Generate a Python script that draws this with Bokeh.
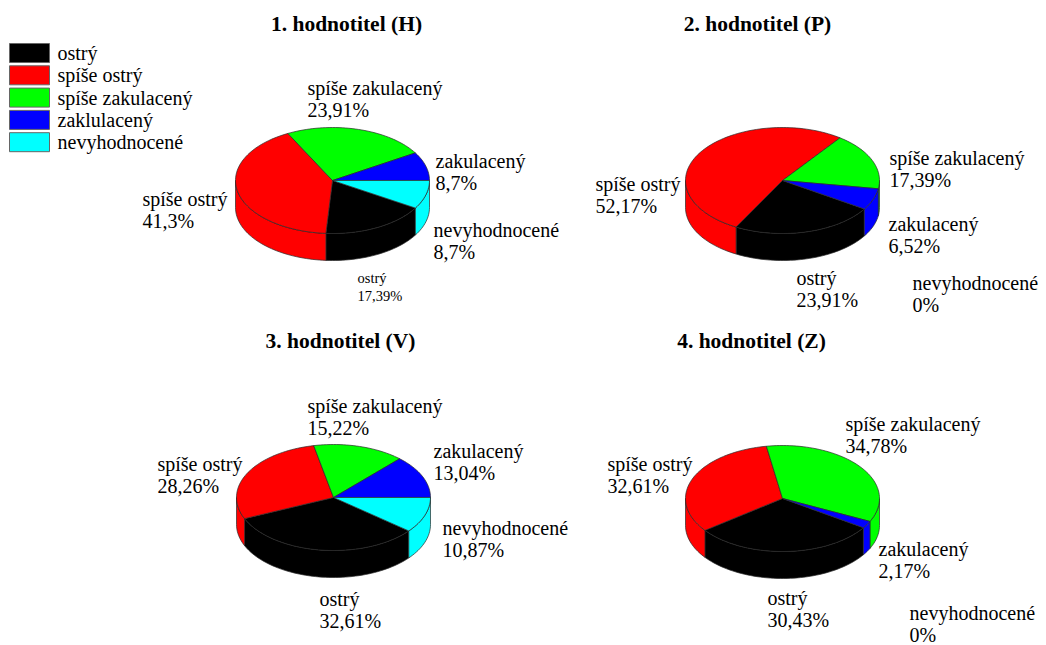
import numpy as np
from bokeh.plotting import figure
from bokeh.models import Range1d
from bokeh.core.properties import value
from bokeh.embed import file_html
from bokeh.resources import INLINE

# --- data -------------------------------------------------------------
categories = ["ostrý", "spíše ostrý", "spíše zakulacený", "zakulacený", "nevyhodnocené"]
legend_labels = ["ostrý", "spíše ostrý", "spíše zakulacený", "zaklulacený", "nevyhodnocené"]
titles = ["1. hodnotitel (H)", "2. hodnotitel (P)", "3. hodnotitel (V)", "4. hodnotitel (Z)"]

share_h = [17.39, 41.3, 23.91, 8.7, 8.7]
share_p = [23.91, 52.17, 17.39, 6.52, 0]
share_v = [32.61, 28.26, 15.22, 13.04, 10.87]
share_z = [30.43, 32.61, 34.78, 2.17, 0]

# --- styling / layout ------------------------------------------------
colors = ["#000000", "#ff0000", "#00ff00", "#0000ff", "#00ffff"]
FONT = value("Liberation Serif")
RX, RY, DEPTH = 97, 53, 27
EDGE = "#2a2a2a"

pies = [
    dict(values=share_h, title=titles[0], center=(332, 180), title_xy=(346, 23), start=-31.3,
         label_xy=[(357, 277), (142, 198), (307, 87), (435, 160), (433, 229)],
         small=[True, False, False, False, False]),
    dict(values=share_p, title=titles[1], center=(782, 180), title_xy=(757, 23), start=-32.5,
         label_xy=[(796, 277), (595, 183), (889, 157), (888, 223), (912, 282)],
         small=[False] * 5),
    dict(values=share_v, title=titles[2], center=(333, 497), title_xy=(340, 340), start=-39.1,
         label_xy=[(319, 598), (157, 463), (307, 405), (433, 450), (442, 527)],
         small=[False] * 5),
    dict(values=share_z, title=titles[3], center=(782, 498), title_xy=(751, 340), start=-33.5,
         label_xy=[(767, 597), (607, 463), (845, 423), (878, 548), (909, 612)],
         small=[False] * 5),
]


def fmt(v):
    return f"{v:g}".replace(".", ",") + "%"


def arc(cx, cy, a, b):
    n = max(2, int(abs(b - a) / 2) + 2)
    t = np.radians(np.linspace(a, b, n))
    return cx + RX * np.cos(t), cy - RY * np.sin(t)


p = figure(width=1046, height=645, x_range=Range1d(0, 1046), y_range=Range1d(645, 0),
           output_backend="svg", toolbar_location=None, min_border=0,
           x_axis_type=None, y_axis_type=None)
p.grid.visible = False
p.outline_line_color = None
p.background_fill_color = "white"

side_xs, side_ys, side_c = [], [], []
top_xs, top_ys, top_c = [], [], []

for pie in pies:
    cx, cy = pie["center"]
    ang = pie["start"]
    for val, col in zip(pie["values"], colors):
        span = val * 3.6
        a1, a2 = ang - span, ang  # slices run clockwise
        ang = a1
        if span <= 0:
            continue
        # top face
        ax, ay = arc(cx, cy, a1, a2)
        top_xs.append([cx] + list(ax))
        top_ys.append([cy] + list(ay))
        top_c.append(col)
        # front wall (lower half of the ellipse)
        for k in (-2, -1, 0, 1):
            lo, hi = max(a1, 180 + 360 * k), min(a2, 360 + 360 * k)
            if hi > lo:
                sx, sy = arc(cx, cy, lo, hi)
                side_xs.append(list(sx) + list(sx[::-1]))
                side_ys.append(list(sy) + list((sy + DEPTH)[::-1]))
                side_c.append(col)

p.patches(side_xs, side_ys, fill_color=side_c, line_color=EDGE, line_width=0.7)
p.patches(top_xs, top_ys, fill_color=top_c, line_color=EDGE, line_width=0.7)

# titles
p.text(x=[pie["title_xy"][0] for pie in pies], y=[pie["title_xy"][1] for pie in pies],
       text=[pie["title"] for pie in pies], text_font=FONT, text_font_size="21.5px",
       text_font_style="bold", text_align="center", text_baseline="middle", text_color="black")

# slice labels: name on the first line, share on the second
for big in (True, False):
    lx, ly, lt = [], [], []
    for pie in pies:
        for cat, v, (x, y), sm in zip(categories, pie["values"], pie["label_xy"], pie["small"]):
            if sm == big:
                continue
            step = 22 if big else 18
            lx += [x, x]
            ly += [y, y + step]
            lt += [cat, fmt(v)]
    p.text(x=lx, y=ly, text=lt, text_font=FONT,
           text_font_size="20px" if big else "14.5px",
           text_align="left", text_baseline="middle", text_color="black")

# legend
leg_y = [52.5 + 22.3 * i for i in range(len(legend_labels))]
p.rect(x=[29] * len(legend_labels), y=leg_y, width=40, height=19, fill_color=colors,
       line_color="#666666", line_width=1)
p.text(x=[57] * len(legend_labels), y=leg_y, text=legend_labels, text_font=FONT,
       text_font_size="20px", text_align="left", text_baseline="middle", text_color="black")

open("out.html", "w").write(file_html(p, INLINE))
